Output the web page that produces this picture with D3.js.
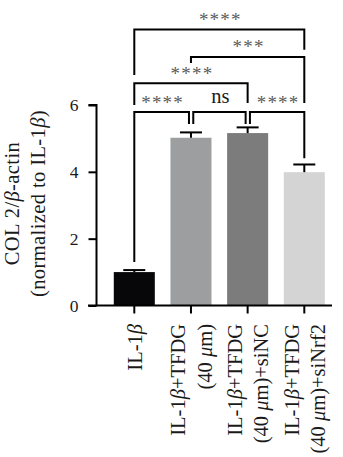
<!DOCTYPE html>
<html>
<head>
<meta charset="utf-8">
<script src="https://cdn.jsdelivr.net/npm/d3@7"></script>
<style>
html,body{margin:0;padding:0;background:#fff;}
svg{display:block;}
</style>
</head>
<body>
<svg id="chart" width="343" height="457"></svg>
<script>
// ---- data ----
const categories = ["IL-1β", "IL-1β+TFDG (40 μm)", "IL-1β+TFDG (40 μm)+siNC", "IL-1β+TFDG (40 μm)+siNrf2"];
const categoryLines = [["IL-1β"], ["IL-1β+TFDG", "(40 μm)"], ["IL-1β+TFDG", "(40 μm)+siNC"], ["IL-1β+TFDG", "(40 μm)+siNrf2"]];
const values = [1.00, 5.02, 5.16, 3.99];
const errors = [0.06, 0.16, 0.17, 0.23];
const barColors = ["#070709", "#9d9ea0", "#7b7c7b", "#d4d4d4"];
const yTicks = [0, 2, 4, 6];
const yLabelLines = ["COL 2/β-actin", "(normalized to IL-1β)"];
// significance comparisons: from bar, to bar, label
const compFrom = [0, 1, 2, 0, 1, 0];
const compTo = [1, 2, 3, 2, 3, 3];
const compLabel = ["****", "ns", "****", "****", "***", "****"];
// bracket heights and leg ends in data units
const compLevel = [5.79, 5.79, 5.79, 6.65, 7.44, 8.26];
const compLeftEnd = [1.30, 5.43, 5.43, 6.00, 7.26, 6.90];
const compRightEnd = [5.43, 5.43, 4.41, 6.06, 6.06, 7.65];

// ---- layout ----
const svg = d3.select("#chart");
const font = "'Liberation Serif', 'Times New Roman', serif";
const axisX = 96.5, xAxisY = 305.5, yTop = 105;
const y = d3.scaleLinear().domain([0, 6]).range([xAxisY, yTop]);
const x = d3.scaleBand().domain(categories).range([96.5, 342.1]).paddingInner(0.276).paddingOuter(0.305);
const cx = i => x(categories[i]) + x.bandwidth() / 2;

function addRich(sel, str) {
  const parts = str.split(/([βμ])/);
  parts.forEach(p => {
    if (!p) return;
    const t = sel.append("tspan").text(p);
    if (p === "β" || p === "μ") t.attr("font-style", "italic");
  });
}

// bars
svg.append("g").selectAll("rect").data(values).join("rect")
  .attr("x", (d, i) => x(categories[i]))
  .attr("width", x.bandwidth())
  .attr("y", d => y(d))
  .attr("height", d => y(0) - y(d))
  .attr("fill", (d, i) => barColors[i]);

// error bars
const eg = svg.append("g").attr("stroke", "#000").attr("stroke-width", 2);
values.forEach((v, i) => {
  const c = cx(i);
  eg.append("line").attr("x1", c).attr("x2", c).attr("y1", y(v)).attr("y2", y(v + errors[i]));
  eg.append("line").attr("x1", c - 11).attr("x2", c + 11).attr("y1", y(v + errors[i])).attr("y2", y(v + errors[i]));
});

// y axis
const yAxis = d3.axisLeft(y).tickValues(yTicks).tickSize(8).tickPadding(10).tickFormat(d3.format("d"));
const yg = svg.append("g").attr("transform", `translate(${axisX},0)`).call(yAxis);
yg.attr("font-family", font);
yg.select(".domain").attr("d", `M-8,${yTop}H0V${xAxisY}`).attr("stroke-width", 2).attr("stroke", "#000");
yg.selectAll(".tick line").attr("stroke-width", 2).attr("stroke", "#000");
yg.selectAll(".tick text").attr("font-family", font).attr("font-size", 17.5).attr("fill", "#1a1a1a");

// x axis
const xAxis = d3.axisBottom(x).tickSize(8).tickFormat("");
const xg = svg.append("g").attr("transform", `translate(0,${xAxisY})`).call(xAxis);
xg.select(".domain").attr("d", `M88,0H332`).attr("stroke-width", 2).attr("stroke", "#000");
xg.selectAll(".tick line").attr("stroke-width", 2).attr("stroke", "#000");

// x labels (rotated)
const xl = svg.append("g").attr("font-family", font).attr("font-size", 20.5).attr("fill", "#1a1a1a");
categoryLines.forEach((lines, i) => {
  const c = cx(i);
  const n = lines.length;
  lines.forEach((ln, k) => {
    const bx = c + 7.5 + (k - (n - 1) / 2) * 26.5;
    const t = xl.append("text").attr("text-anchor", "end")
      .attr("transform", `translate(${bx},324) rotate(-90)`);
    addRich(t, ln);
  });
});

// y label
const yl = svg.append("g").attr("font-family", font).attr("font-size", 20.5).attr("letter-spacing", 0.4).attr("fill", "#1a1a1a");
yLabelLines.forEach((ln, k) => {
  const t = yl.append("text").attr("text-anchor", "middle")
    .attr("transform", `translate(${18.5 + k * 26},203.5) rotate(-90)`);
  addRich(t, ln);
});

// significance brackets
const bg = svg.append("g");
compFrom.forEach((f, i) => {
  const t = compTo[i];
  const lvl = compLevel[i];
  // shared-bar offsets for the lowest row
  const low = lvl === d3.min(compLevel);
  let lx = cx(f), rx = cx(t);
  if (low) {
    if (compTo.some((tt, j) => j !== i && compLevel[j] === lvl && tt === f)) lx += 2.3;
    if (compFrom.some((ff, j) => j !== i && compLevel[j] === lvl && ff === t)) rx -= 2;
  }
  bg.append("path")
    .attr("d", `M${lx},${y(compLeftEnd[i])}V${y(lvl)}H${rx}V${y(compRightEnd[i])}`)
    .attr("fill", "none").attr("stroke", "#000").attr("stroke-width", 2);
  const mid = (lx + rx) / 2 + 1;
  const isNs = compLabel[i] === "ns";
  bg.append("text")
    .attr("x", mid)
    .attr("y", isNs ? y(lvl) - 9 : y(lvl) - 3.5)
    .attr("text-anchor", "middle")
    .attr("font-family", font)
    .attr("font-size", isNs ? 20.5 : 19)
    .attr("letter-spacing", isNs ? 0 : 1.2)
    .attr("fill", isNs ? "#1a1a1a" : "#5a5a5a")
    .text(compLabel[i]);
});
</script>
</body>
</html>
